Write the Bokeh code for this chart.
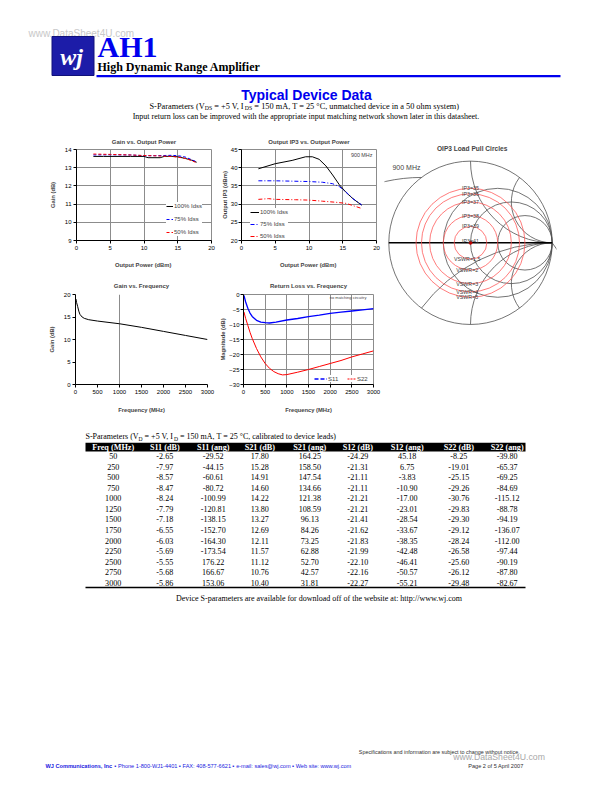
import numpy as np
from bokeh.plotting import figure
from bokeh.models import Range1d, Legend, LegendItem, Label, SingleIntervalTicker, FixedTicker
from bokeh.layouts import row, column
from bokeh.core.properties import value
from bokeh.embed import file_html
from bokeh.resources import INLINE

CF = "Liberation Sans"   # chart font
SANS = "Liberation Sans"
SERIF = "Liberation Serif"
BLUE = "#0000ee"
GRID = "#8c8c8c"

# ---------------- data ----------------
# Gain vs. Output Power (900 MHz)
gp_pout_100 = [2.5, 4, 6, 8, 10, 10.6, 12.4, 13, 14, 15, 16, 17, 17.8]
gp_gain_100 = [13.62, 13.62, 13.62, 13.62, 13.62, 13.55, 13.55, 13.62, 13.63, 13.6, 13.52, 13.42, 13.3]
gp_pout_75 = [2.5, 5, 8, 10, 12, 14, 15, 16, 17, 17.8]
gp_gain_75 = [13.7, 13.71, 13.7, 13.66, 13.66, 13.68, 13.66, 13.6, 13.45, 13.32]
gp_pout_50 = [2.5, 5, 8, 10, 12, 14, 15, 16, 17, 17.8]
gp_gain_50 = [13.75, 13.73, 13.7, 13.67, 13.65, 13.62, 13.58, 13.52, 13.4, 13.27]

# Output IP3 vs. Output Power (900 MHz)
ip_pout_100 = [2.5, 5, 7.5, 9.5, 10.5, 11.5, 12.5, 13.5, 14.5, 15.5, 16.5, 17.8]
ip_oip3_100 = [39.7, 41.1, 42.0, 43.0, 43.0, 42.3, 40.5, 38.0, 35.3, 33.2, 31.5, 29.7]
ip_pout_75 = [2.5, 5, 7.5, 10, 12, 13.5, 14.5, 15.5, 16.5, 17.8]
ip_oip3_75 = [36.4, 36.4, 36.3, 36.2, 36.0, 35.6, 34.8, 33.3, 31.5, 29.8]
ip_pout_50 = [2.5, 4, 5, 8, 10, 12, 14, 15.5, 16.5, 17.8]
ip_oip3_50 = [31.3, 31.5, 31.3, 31.2, 31.1, 30.8, 30.5, 30.2, 29.6, 28.8]

# Gain vs. Frequency
gf_freq = [10, 25, 50, 75, 100, 150, 200, 300, 500, 1000, 1500, 2000, 2500, 3000]
gf_gain = [19.0, 18.2, 17.3, 16.3, 15.6, 15.0, 14.7, 14.4, 14.1, 13.5, 12.7, 11.8, 10.9, 10.0]

# Return Loss vs. Frequency
rl_freq_s11 = [10, 50, 100, 150, 200, 300, 400, 500, 600, 750, 1000, 1250, 1500, 1750, 2000, 2250, 2500, 2750, 3000]
rl_s11 = [-0.3, -2.5, -4.6, -6.2, -7.3, -8.6, -9.2, -9.4, -9.5, -9.2, -8.5, -8.0, -7.4, -6.9, -6.3, -5.9, -5.5, -5.1, -4.7]
rl_freq_s22 = [10, 50, 100, 150, 200, 300, 400, 500, 600, 700, 800, 900, 1000, 1250, 1500, 1750, 2000, 2250, 2500, 2750, 3000]
rl_s22 = [-5.8, -8.0, -10.3, -12.6, -14.6, -18.0, -20.8, -23.0, -24.6, -25.7, -26.4, -26.8, -26.7, -25.9, -25.0, -24.0,
          -23.0, -22.0, -20.8, -19.8, -18.8]

# OIP3 load pull circles (900 MHz)
lp_ip3 = [39, 38, 37, 36, 35]
lp_vswr = [1.5, 2, 3, 4, 5]
lp_ip3_peak = 41
smith_r = [0.5, 1, 2]
smith_x = [0.5, 1, 2, -0.5, -1, -2]

# S-parameter table
tbl_head = ["Freq (MHz)", "S11 (dB)", "S11 (ang)", "S21 (dB)", "S21 (ang)", "S12 (dB)", "S12 (ang)", "S22 (dB)", "S22 (ang)"]
freq_mhz = [50, 250, 500, 750, 1000, 1250, 1500, 1750, 2000, 2250, 2500, 2750, 3000]
s11_db = [-2.65, -7.97, -8.57, -8.47, -8.24, -7.79, -7.18, -6.55, -6.03, -5.69, -5.55, -5.68, -5.86]
s11_ang = [-29.52, -44.15, -60.61, -80.72, -100.99, -120.81, -138.15, -152.70, -164.30, -173.54, 176.22, 166.67, 153.06]
s21_db = [17.80, 15.28, 14.91, 14.60, 14.22, 13.80, 13.27, 12.69, 12.11, 11.57, 11.12, 10.76, 10.40]
s21_ang = [164.25, 158.50, 147.54, 134.66, 121.38, 108.59, 96.13, 84.26, 73.25, 62.88, 52.70, 42.57, 31.81]
s12_db = [-24.29, -21.31, -21.11, -21.11, -21.21, -21.21, -21.41, -21.62, -21.83, -21.99, -22.10, -22.16, -22.27]
s12_ang = [45.18, 6.75, -3.83, -10.90, -17.00, -23.01, -28.54, -33.67, -38.35, -42.48, -46.41, -50.57, -55.21]
s22_db = [-8.25, -19.01, -25.15, -29.26, -30.76, -29.83, -29.30, -29.12, -28.24, -26.58, -25.60, -26.12, -29.48]
s22_ang = [-39.80, -65.37, -69.25, -84.69, -115.12, -88.78, -94.19, -136.07, -112.00, -97.44, -90.19, -87.80, -82.67]

# ---------------- text width helper (Times metrics, 1/1000 em) ----------------
_TW = {" ": 250, "(": 333, ")": 333, "+": 564, ",": 250, "-": 333, ".": 250, "/": 278, ":": 278, "=": 564, "°": 400}
_TW.update({d: 500 for d in "0123456789"})
_TW.update(dict(zip("ABCDEFGHIJKLMNOPQRSTUVWXYZ",
                    [722, 667, 667, 722, 611, 556, 722, 722, 333, 389, 722, 611, 889, 722, 722, 556, 722, 667, 556, 611, 722, 722, 944, 722, 722, 611])))
_TW.update(dict(zip("abcdefghijklmnopqrstuvwxyz",
                    [444, 500, 444, 500, 444, 333, 500, 500, 278, 278, 500, 278, 778, 500, 500, 500, 500, 333, 389, 278, 500, 500, 722, 500, 500, 444])))


def tw(s):
    return sum(_TW.get(c, 500) for c in s) / 1000.0


def draw_runs(p, runs, x0, y, color="black", font=SERIF):
    x = x0
    for t, size, dy in runs:
        core = t.lstrip(" ")
        x += tw(t[:len(t) - len(core)]) * size   # leading blanks are collapsed in SVG: advance manually
        p.text(x=[x], y=[y + dy], text=[core], text_font=value(font), text_font_size=value(f"{size:.2f}px"),
               text_color=color, text_align="left", text_baseline="middle")
        x += tw(core) * size


def sub_runs(main, sub, tail, size):
    s = size * 0.7
    return [(main[0], size, 0), (sub, s, size * 0.3), (main[1], size, 0), (sub, s, size * 0.3), (tail, size, 0)]


# ---------------- chart helper ----------------
def chart(w, h, xr, yr, xt, yt, bl, br, bt, bb, title, tstand, xlabel, ylabel, ystand, xstand, ylstand=2):
    p = figure(width=w, height=h, x_range=Range1d(*xr), y_range=Range1d(*yr), output_backend="svg",
               toolbar_location=None, min_border_left=bl, min_border_right=br, min_border_top=bt,
               min_border_bottom=bb, title=title)
    p.title.align = "center"
    p.title.text_font = CF
    p.title.text_font_size = "6px"
    p.title.text_font_style = "bold"
    p.title.standoff = tstand
    p.title.offset = 0
    p.xaxis.ticker = SingleIntervalTicker(interval=xt)
    p.yaxis.ticker = SingleIntervalTicker(interval=yt)
    for ax in (p.xaxis[0], p.yaxis[0]):
        ax.major_label_text_font = CF
        ax.major_label_text_font_size = "6px"
        ax.axis_label_text_font = CF
        ax.axis_label_text_font_size = "5.8px"
        ax.axis_label_text_font_style = "bold"
        ax.major_tick_out = 3
        ax.major_tick_in = 0
        ax.minor_tick_out = 0
        ax.minor_tick_in = 0
        ax.axis_line_color = "black"
        ax.major_tick_line_color = "black"
        ax.major_label_standoff = 2
        ax.major_label_text_color = "black"
    p.yaxis.major_label_standoff = ylstand
    p.xaxis.axis_label = xlabel
    p.yaxis.axis_label = ylabel
    p.yaxis.axis_label_standoff = ystand
    p.xaxis.axis_label_standoff = xstand
    p.grid.grid_line_color = GRID
    p.grid.grid_line_width = 1
    p.outline_line_color = GRID
    p.background_fill_color = "white"
    p.border_fill_color = "white"
    return p


def legend(p, items, loc, gw, gh, lh, sp, orient="vertical", fs="6px"):
    lg = Legend(items=[LegendItem(label=l, renderers=[r]) for l, r in items], location=loc,
                orientation=orient, glyph_width=gw, glyph_height=gh, label_height=lh, label_width=5,
                spacing=sp, padding=1, margin=0, label_standoff=1, label_text_font=CF, label_text_font_size=fs,
                background_fill_color="white", background_fill_alpha=1.0, border_line_color=None)
    p.add_layout(lg)


# Chart 1: Gain vs Output Power  (page x 0..216, y 130..274)
c1 = chart(216, 144, (0, 20), (9, 14), 5, 1, 76, 5, 19, 34, "Gain vs. Output Power", 9,
           "Output  Power (dBm)", "Gain (dB)", 6, 9)
r1a = c1.line(gp_pout_100, gp_gain_100, color="black", line_width=1)
r1b = c1.line(gp_pout_75, gp_gain_75, color="#0000ff", line_width=1, line_dash="3 2")
r1c = c1.line(gp_pout_50, gp_gain_50, color="#ff0000", line_width=1, line_dash="3 2")
legend(c1, [("100% Idss", r1a), ("75% Idss", r1b), ("50% Idss", r1c)], (90, 4), 7, 8, 8, 5)

# Chart 2: Output IP3 vs Output Power  (page x 216..384)
c2 = chart(168, 144, (0, 20), (20, 45), 5, 5, 25, 8, 19, 34, "Output IP3 vs. Output Power", 9,
           "Output  Power (dBm)", "Output IP3 (dBm)", 0, 9, ylstand=1)
r2a = c2.line(ip_pout_100, ip_oip3_100, color="black", line_width=1)
r2b = c2.line(ip_pout_75, ip_oip3_75, color="#0000ff", line_width=1, line_dash="4 2 1 2")
r2c = c2.line(ip_pout_50, ip_oip3_50, color="#ff0000", line_width=1, line_dash="4 2 1 2")
legend(c2, [("100% Idss", r2a), ("75% Idss", r2b), ("50% Idss", r2c)], (9, 0), 9, 8, 8, 4)
c2.add_layout(Label(x=19.4, y=43.6, text="900 MHz", text_font=CF, text_font_size="5.4px",
                    text_align="right", text_baseline="middle"))

# Chart 3: Gain vs Frequency  (page x 0..216, y 274..425)
c3 = chart(216, 151, (0, 3000), (0, 20), 500, 5, 75, 9, 20, 41, "Gain vs. Frequency", 11.5,
           "Frequency (MHz)", "Gain (dB)", 6, 10)
c3.xgrid.ticker = FixedTicker(ticks=[1000])
c3.ygrid.visible = False
c3.outline_line_color = None
c3.line(gf_freq, gf_gain, color="black", line_width=1)

# Chart 4: Return Loss vs Frequency  (page x 216..384)
c4 = chart(168, 151, (0, 3000), (-30, 0), 500, 5, 27, 11, 20, 40, "Return Loss vs. Frequency", 11.5,
           "Frequency (MHz)", "Magnitude (dB)", 0, 10, ylstand=1)
r4a = c4.line(rl_freq_s11, rl_s11, color="#0000ff", line_width=1.3)
r4b = c4.line(rl_freq_s22, rl_s22, color="#ff0000", line_width=1)
k11 = c4.line(x=[np.nan], y=[np.nan], color="#0000ff", line_width=1.3, line_dash="4 2")
k22 = c4.line(x=[np.nan], y=[np.nan], color="#ff0000", line_width=1, line_dash="2 1")
legend(c4, [("S11", k11)], (71, 2), 13, 7, 7, 0)
legend(c4, [("S22", k22)], (104, 2), 9, 7, 7, 0)
c4.add_layout(Label(x=1990, y=-0.9, text="no matching circuitry", text_font=CF, text_font_size="4px",
                    text_align="left", text_baseline="middle"))

# Smith chart: OIP3 load pull circles  (page x 384..604, y 130..425)
sm = figure(width=220, height=295, x_range=Range1d(-1.0526, 1.0526), y_range=Range1d(-1.0122, 1.3745),
            output_backend="svg", toolbar_location=None, x_axis_location=None, y_axis_location=None,
            min_border_left=0, min_border_right=48, min_border_top=0, min_border_bottom=100)
sm.grid.visible = False
sm.outline_line_color = None
sm.background_fill_color = "white"
SM_LINE = "#505050"
sm.circle(x=[0], y=[0], radius=1, fill_color=None, line_color=SM_LINE, line_width=0.8)
rr = np.array(smith_r, dtype=float)
sm.circle(x=rr / (1 + rr), y=np.zeros_like(rr), radius=1 / (1 + rr), fill_color=None, line_color=SM_LINE,
          line_width=0.8)
xx = np.array(smith_x, dtype=float)
px = (xx ** 2 - 1) / (xx ** 2 + 1)
py = 2 * xx / (xx ** 2 + 1)
cy = 1 / xx
angp = np.arctan2(py - cy, px - 1)
start = np.where(xx > 0, angp, np.pi / 2)
end = np.where(xx > 0, 1.5 * np.pi, angp + 2 * np.pi * (angp < np.pi / 2))
sm.arc(x=np.ones_like(xx), y=cy, radius=1 / np.abs(xx), start_angle=start, end_angle=end,
       line_color=SM_LINE, line_width=0.8)
sm.segment(x0=[-1], y0=[0], x1=[1], y1=[0], line_color="black", line_width=1.6)
gam = (np.array(lp_vswr) - 1) / (np.array(lp_vswr) + 1)
sm.circle(x=np.zeros_like(gam), y=np.zeros_like(gam), radius=gam, fill_color=None, line_color="#ff5a5a",
          line_width=0.8)
sm.scatter(x=[0], y=[0], size=3, color="#c00000")
sm.text(x=np.zeros_like(gam), y=gam, text=[f"IP3={v}" for v in lp_ip3], text_font=value(CF),
        text_font_size=value("5.3px"), text_color="#404040", text_align="center", text_baseline="middle")
sm.text(x=[0], y=[0.02], text=[f"IP3={lp_ip3_peak}"], text_font=value(CF),
        text_font_size=value("5.3px"), text_color="#404040", text_align="center", text_baseline="middle")
sm.text(x=np.full_like(gam, -0.04), y=-gam, text=[f"VSWR={v:g}" for v in lp_vswr], text_font=value(CF),
        text_font_size=value("5.3px"), text_color="#404040", text_align="center", text_baseline="middle")
sm.add_layout(Label(x=0.02, y=1.154, text="OIP3 Load Pull Circles", text_font=CF, text_font_size="6.6px",
                    text_font_style="bold", text_align="center", text_baseline="middle"))
sm.add_layout(Label(x=-0.955, y=0.92, text="900 MHz", text_font=CF, text_font_size="7px",
                    text_align="left", text_baseline="middle"))

# ---------------- header (page y 0..130) ----------------
hd = figure(width=604, height=130, x_range=Range1d(0, 604), y_range=Range1d(130, 0), output_backend="svg",
            toolbar_location=None, x_axis_location=None, y_axis_location=None, min_border=0)
hd.grid.visible = False
hd.outline_line_color = None
hd.text(x=[28], y=[33], text=["www.DataSheet4U.com"], text_font=value(SANS), text_font_size=value("10px"),
        text_color="#c8c8c8", text_align="left", text_baseline="middle")
hd.quad(left=[51.5], right=[93.5], top=[36], bottom=[75], fill_color="#1c1ca8", line_color="#10107a")
hd.text(x=[71], y=[56], text=["wj"], text_font=value(SERIF), text_font_style="bold italic",
        text_font_size=value("24px"), text_color="white", text_align="center", text_baseline="middle")
hd.text(x=[97], y=[45.5], text=["AH1"], text_font=value(SERIF), text_font_style="bold",
        text_font_size=value("30px"), text_color=BLUE, text_align="left", text_baseline="middle")
hd.text(x=[97], y=[66.5], text=["High Dynamic Range Amplifier"], text_font=value(SERIF), text_font_style="bold",
        text_font_size=value("12px"), text_color="black", text_align="left", text_baseline="middle")
hd.segment(x0=[96], y0=[75.7], x1=[560], y1=[75.7], line_color=BLUE, line_width=2.2)
hd.text(x=[306], y=[94], text=["Typical Device Data"], text_font=value(SANS), text_font_style="bold",
        text_font_size=value("14px"), text_color=BLUE, text_align="center", text_baseline="middle")
tail1 = " = 150 mA, T = 25 °C, unmatched device in a 50 ohm system)"
runs1 = sub_runs(("S-Parameters (V", " = +5 V, I"), "DS", tail1, 1.0)
f1 = 310.0 / sum(tw(t) * s for t, s, d in runs1)
draw_runs(hd, sub_runs(("S-Parameters (V", " = +5 V, I"), "DS", tail1, f1), 149, 105.5)
line2 = "Input return loss can be improved with the appropriate input matching network shown later in this datasheet."
hd.text(x=[305.5], y=[115.6], text=[line2], text_font=value(SERIF), text_font_size=value(f"{347.0 / tw(line2):.2f}px"),
        text_color="black", text_align="center", text_baseline="middle")

# ---------------- table + footer (page y 425..784) ----------------
bt = figure(width=604, height=359, x_range=Range1d(0, 604), y_range=Range1d(784, 425), output_backend="svg",
            toolbar_location=None, x_axis_location=None, y_axis_location=None, min_border=0)
bt.grid.visible = False
bt.outline_line_color = None
tailc = " = 150 mA, T = 25 °C, calibrated to device leads)"
cap = sub_runs(("S-Parameters (V", " = +5 V, I"), "D", tailc, 1.0)
fc = 250.7 / sum(tw(t) * s for t, s, d in cap)
draw_runs(bt, sub_runs(("S-Parameters (V", " = +5 V, I"), "D", tailc, fc), 85, 435.7)

col_x = [112.7, 164.3, 212.7, 259.3, 309.3, 357.3, 406.7, 458.3, 506.7]
bt.quad(left=[85], right=[525], top=[442.3], bottom=[451], fill_color="black", line_color=None)
bt.text(x=col_x, y=[446.8] * len(col_x), text=tbl_head, text_font=value(SERIF), text_font_style="bold",
        text_font_size=value("8.2px"), text_color="white", text_align="center", text_baseline="middle")
cols = [freq_mhz, s11_db, s11_ang, s21_db, s21_ang, s12_db, s12_ang, s22_db, s22_ang]
xs, ys, ts = [], [], []
for ci, colv in enumerate(cols):
    for ri, v in enumerate(colv):
        xs.append(col_x[ci])
        ys.append(455.6 + ri * 10.55)
        ts.append(str(v) if ci == 0 else f"{v:.2f}")
bt.text(x=xs, y=ys, text=ts, text_font=value(SERIF), text_font_size=value("8.1px"), text_color="black",
        text_align="center", text_baseline="middle")
bt.segment(x0=[85], y0=[587], x1=[525], y1=[587], line_color="black", line_width=1.3)
dl = "Device S-parameters are available for download off of the website at:  http://www.wj.com"
bt.text(x=[319.5], y=[598], text=[dl], text_font=value(SERIF), text_font_size=value(f"{289.0 / tw(dl):.2f}px"),
        text_color="black", text_align="center", text_baseline="middle")

bt.text(x=[358.3], y=[751.7], text=["Specifications and information are subject to change without notice."],
        text_font=value(SANS), text_font_size=value("5.4px"), text_color="#303030", text_align="left",
        text_baseline="middle")
bt.text(x=[452.7], y=[756.5], text=["www.DataSheet4U.com"], text_font=value(SANS), text_font_size=value("8.7px"),
        text_color="#a8a8a8", text_align="left", text_baseline="middle")
bt.text(x=[45], y=[765.7], text=["WJ Communications, Inc"], text_font=value(SANS), text_font_style="bold",
        text_font_size=value("5.6px"), text_color="#1a1ae0", text_align="left", text_baseline="middle")
bt.text(x=[114], y=[765.7],
        text=["\u25aa  Phone 1-800-WJ1-4401 \u25aa  FAX: 408-577-6621  \u25aa  e-mail: sales@wj.com  \u25aa   Web site: www.wj.com"],
        text_font=value(SANS), text_font_size=value("5.6px"), text_color="#1a1ae0", text_align="left",
        text_baseline="middle")
bt.text(x=[467.7], y=[765.7], text=["Page 2 of 5   April 2007"], text_font=value(SANS),
        text_font_size=value("5.6px"), text_color="#303030", text_align="left", text_baseline="middle")

layout = column(hd, row(column(row(c1, c2), row(c3, c4)), sm), bt)
open("out.html", "w").write(file_html(layout, INLINE))
